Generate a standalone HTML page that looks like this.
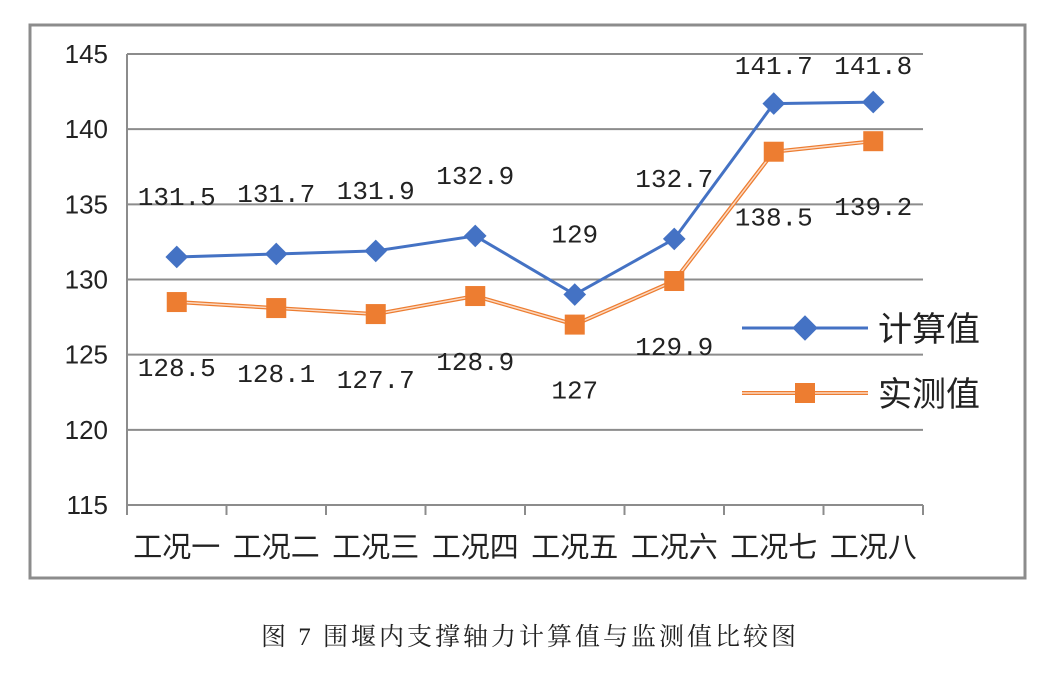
<!DOCTYPE html>
<html><head><meta charset="utf-8"><style>
body{margin:0;background:#fff;width:1057px;height:681px;overflow:hidden}
svg text{font-family:"Liberation Sans","Noto Sans CJK SC",sans-serif}
</style></head><body>
<svg width="1057" height="681">
<rect x="30" y="25" width="995" height="553" fill="#fff" stroke="#8c8c8c" stroke-width="3"/>
<g id="grid"></g><g id="axes"></g><g id="series"></g><g id="labels"></g>
<g>
<g>
<line x1="742" y1="328" x2="868" y2="328" stroke="#4472c4" stroke-width="3"/>
<rect x="796" y="319" width="18" height="18" fill="#4472c4" transform="rotate(45 805 328)"/>
<text x="878" y="341" font-size="34" fill="#222">计算值</text></g>
<g>
<line x1="742" y1="393" x2="868" y2="393" stroke="#ed7d31" stroke-width="4"/>
<line x1="742" y1="393" x2="868" y2="393" stroke="#fbd9c2" stroke-width="1.5"/>
<rect x="795" y="383" width="20" height="20" fill="#ed7d31"/>
<text x="878" y="406" font-size="34" fill="#222">实测值</text></g>
</g>
<text x="530" y="645" text-anchor="middle" font-size="25" letter-spacing="3" fill="#222" style="font-family:'Liberation Serif','Noto Serif CJK SC',serif">图 7  围堰内支撑轴力计算值与监测值比较图</text>
</svg>
<script>
const categories=["工况一","工况二","工况三","工况四","工况五","工况六","工况七","工况八"];
const calcValues=[131.5,131.7,131.9,132.9,129,132.7,141.7,141.8];
const measuredValues=[128.5,128.1,127.7,128.9,127,129.9,138.5,139.2];
const yTicks=[115,120,125,130,135,140,145];
const NS="http://www.w3.org/2000/svg";
const x0=127,x1=923,yTop=54,yBot=505,yMin=115,yMax=145;
const bw=(x1-x0)/categories.length;
const xs=i=>x0+bw*(i+0.5);
const ys=v=>yBot-(v-yMin)/(yMax-yMin)*(yBot-yTop);
function mk(tag,attrs,parent){const e=document.createElementNS(NS,tag);for(const k in attrs)e.setAttribute(k,attrs[k]);document.getElementById(parent).appendChild(e);return e;}
yTicks.forEach(t=>{
 if(t!==yMin){const g=mk('line',{x1:x0,x2:x1,y1:ys(t),y2:ys(t),stroke:'#8c8c8c','stroke-width':2},'grid');
 
 }
 const l=mk('text',{x:108,y:ys(t)+9,'text-anchor':'end','font-size':26,fill:'#222'},'axes');l.textContent=t;
 
 
});
const ax=mk('line',{x1:x0,x2:x1,y1:yBot,y2:yBot,stroke:'#8c8c8c','stroke-width':2},'axes');


const ay=mk('line',{x1:x0,x2:x0,y1:yTop,y2:yBot,stroke:'#8c8c8c','stroke-width':2},'axes');


for(let i=0;i<=categories.length;i++){const tk=mk('line',{x1:x0+bw*i,x2:x0+bw*i,y1:yBot,y2:yBot+10,stroke:'#8c8c8c','stroke-width':2},'axes');
 
 }
categories.forEach((c,i)=>{const t=mk('text',{x:xs(i),y:557,'text-anchor':'middle','font-size':29,fill:'#222'},'axes');t.textContent=c;
 
 });
const pc=calcValues.map((v,i)=>xs(i)+','+ys(v)).join(' ');
const pm=measuredValues.map((v,i)=>xs(i)+','+ys(v)).join(' ');
const lm=mk('polyline',{points:pm,fill:'none',stroke:'#ed7d31','stroke-width':4},'series');


mk('polyline',{points:pm,fill:'none',stroke:'#fbd9c2','stroke-width':1.5},'series');
const lc=mk('polyline',{points:pc,fill:'none',stroke:'#4472c4','stroke-width':3},'series');


const mono="'Liberation Mono','Noto Sans CJK SC',monospace";
calcValues.forEach((v,i)=>{
 const d=mk('rect',{x:xs(i)-8,y:ys(v)-8,width:16,height:16,fill:'#4472c4',transform:`rotate(45 ${xs(i)} ${ys(v)})`},'series');
 
 
 const t=mk('text',{x:xs(i),y:Math.max(ys(v)-52,74),'text-anchor':'middle','font-size':26,fill:'#222',style:'font-family:'+mono},'labels');t.textContent=v;
 
 
});
measuredValues.forEach((v,i)=>{
 const d=mk('rect',{x:xs(i)-10,y:ys(v)-10,width:20,height:20,fill:'#ed7d31'},'series');
 
 
 const t=mk('text',{x:xs(i),y:ys(v)+74,'text-anchor':'middle','font-size':26,fill:'#222',style:'font-family:'+mono},'labels');t.textContent=v;
 
 
});
</script>
</body></html>
